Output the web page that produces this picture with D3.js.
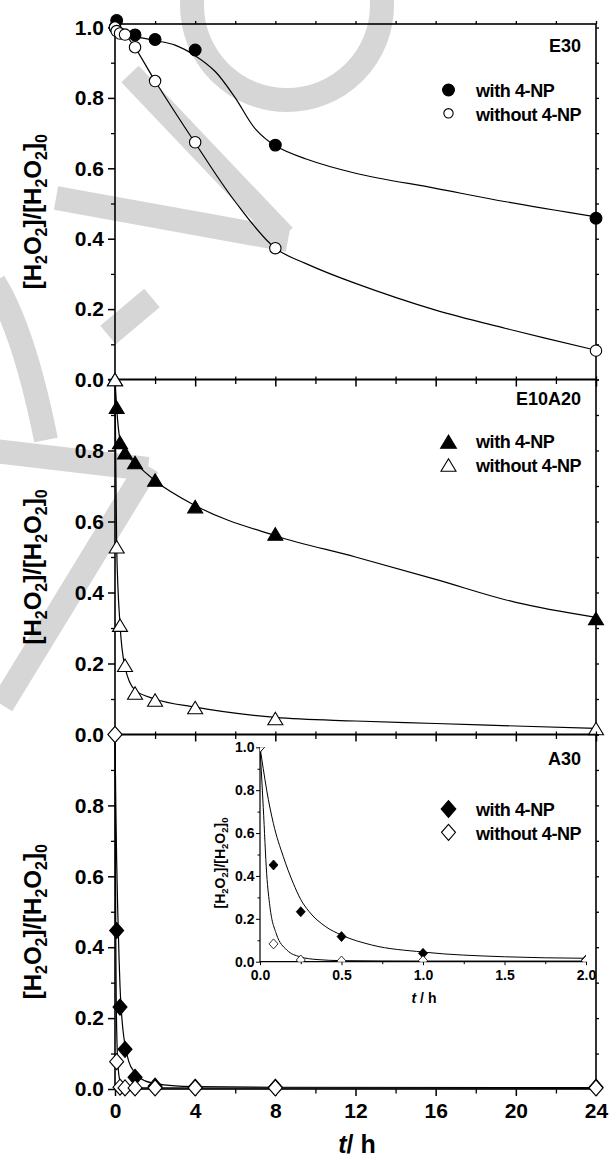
<!DOCTYPE html>
<html><head><meta charset="utf-8">
<script src="https://cdn.jsdelivr.net/npm/d3@7"></script>
<style>
body{margin:0;background:#fff}
text{font-family:"Liberation Sans",Arial,sans-serif;font-weight:bold}
</style>
</head><body>
<svg id="c" width="610" height="1160"></svg>
<script>
// ---------- DATA ----------
const xTickMajor = [0, 4, 8, 12, 16, 20, 24];
const xTickMinor = [2, 6, 10, 14, 18, 22];
const yTickMajor = [0, 0.2, 0.4, 0.6, 0.8, 1.0];
const yTickMinor = [0.1, 0.3, 0.5, 0.7, 0.9];
const insetXTicks = [0, 0.5, 1.0, 1.5, 2.0];
const insetXMinor = [0.25, 0.75, 1.25, 1.75];

const panelNames = ["E30", "E10A20", "A30"];
const seriesNames = ["with 4-NP", "without 4-NP"];

// E30 measured points
const e30WithT = [0, 0.083, 1, 2, 4, 8, 24];
const e30WithY = [1.0, 1.02, 0.979, 0.966, 0.936, 0.666, 0.458];
const e30WithoutT = [0, 0.083, 0.25, 0.5, 1, 2, 4, 8, 24];
const e30WithoutY = [1.0, 0.99, 0.983, 0.98, 0.944, 0.848, 0.674, 0.373, 0.082];
// E30 fitted curves
const e30WithFitT = [0, 0.5, 1, 2, 3, 4, 5, 6, 7, 8, 9.5, 12, 16, 19.5, 24];
const e30WithFitY = [0.995, 0.985, 0.975, 0.963, 0.95, 0.92, 0.875, 0.80, 0.712, 0.664, 0.627, 0.586, 0.543, 0.505, 0.462];
const e30WithoutFitT = [0, 0.5, 1, 2, 4, 6, 8, 9.5, 12, 16, 19.5, 24];
const e30WithoutFitY = [1.0, 0.98, 0.943, 0.848, 0.672, 0.505, 0.373, 0.33, 0.273, 0.197, 0.145, 0.083];

// E10A20 measured points
const e10WithT = [0, 0.083, 0.25, 0.5, 1, 2, 4, 8, 24];
const e10WithY = [1.0, 0.922, 0.823, 0.794, 0.766, 0.717, 0.642, 0.565, 0.327];
const e10WithoutT = [0, 0.083, 0.25, 0.5, 1, 2, 4, 8, 24];
const e10WithoutY = [1.0, 0.529, 0.308, 0.195, 0.117, 0.097, 0.076, 0.045, 0.017];
// E10A20 fitted curves
const e10WithFitT = [0, 0.083, 0.25, 0.5, 1, 2, 4, 8, 12, 16, 20, 24];
const e10WithFitY = [1.0, 0.92, 0.83, 0.795, 0.765, 0.715, 0.645, 0.56, 0.5, 0.437, 0.372, 0.33];
const e10WithoutFitT = [0, 0.083, 0.25, 0.5, 1, 2, 4, 8, 12, 16, 20, 24];
const e10WithoutFitY = [1.0, 0.53, 0.31, 0.19, 0.125, 0.1, 0.077, 0.048, 0.038, 0.031, 0.024, 0.017];

// A30 measured points
const a30WithT = [0, 0.083, 0.25, 0.5, 1, 2, 4, 8, 24];
const a30WithY = [1.0, 0.447, 0.231, 0.112, 0.033, 0.008, 0.005, 0.005, 0.005];
const a30WithoutT = [0, 0.083, 0.25, 0.5, 1, 2, 4, 8, 24];
const a30WithoutY = [1.0, 0.077, 0.005, 0.003, 0.003, 0.003, 0.003, 0.003, 0.003];
// A30 fitted curves
const a30WithFitT = [0, 0.02, 0.041, 0.082, 0.143, 0.204, 0.25, 0.3, 0.4, 0.5, 0.685, 1.0, 1.5, 2.0, 3, 4, 8, 24];
const a30WithFitY = [1.0, 0.9, 0.80, 0.645, 0.49, 0.366, 0.29, 0.235, 0.165, 0.124, 0.078, 0.045, 0.023, 0.016, 0.009, 0.007, 0.005, 0.004];
const a30WithoutFitT = [0, 0.02, 0.041, 0.061, 0.1, 0.164, 0.245, 0.35, 0.5, 1, 2, 24];
const a30WithoutFitY = [1.0, 0.72, 0.41, 0.256, 0.13, 0.055, 0.023, 0.01, 0.005, 0.003, 0.003, 0.002];

// A30 inset (0-2 h)
const insetWithT = [0, 0.083, 0.25, 0.5, 1.0, 2.0];
const insetWithY = [1.0, 0.451, 0.233, 0.117, 0.039, 0.008];
const insetWithoutT = [0, 0.083, 0.25, 0.5, 1.0, 2.0];
const insetWithoutY = [1.0, 0.083, 0.008, 0.003, 0.005, 0.005];

// ---------- DRAW ----------
const zip = (a, b) => a.map((v, i) => [v, b[i]]);
const svg = d3.select("#c");
svg.append("rect").attr("width", 610).attr("height", 1160).attr("fill", "#fff");

// watermark (decorative background)
const wm = svg.append("g").attr("fill", "none").attr("stroke", "#d6d6d6").attr("stroke-width", 24);
wm.append("circle").attr("cx", 287).attr("cy", 5).attr("r", 95);
wm.append("line").attr("x1", 130).attr("y1", 74).attr("x2", 284).attr("y2", 236);
wm.append("line").attr("x1", 56).attr("y1", 198).attr("x2", 288).attr("y2", 240);
wm.append("line").attr("x1", 108).attr("y1", 335).attr("x2", 152).attr("y2", 298);
wm.append("path").attr("d", "M-6,282 Q24,330 46,440");
wm.append("line").attr("x1", -5).attr("y1", 451).attr("x2", 148).attr("y2", 469);
wm.append("line").attr("x1", 148).attr("y1", 466).attr("x2", 2).attr("y2", 705);

const FONT = '"Liberation Sans", Arial, sans-serif';
const x = d3.scaleLinear().domain([0, 24]).range([115, 596]);

const triSym = (w, h) => ({draw(ctx) { ctx.moveTo(0, -h / 2); ctx.lineTo(w / 2, h / 2); ctx.lineTo(-w / 2, h / 2); ctx.closePath(); }});
const diaSym = (w, h) => ({draw(ctx) { ctx.moveTo(0, -h / 2); ctx.lineTo(w / 2, 0); ctx.lineTo(0, h / 2); ctx.lineTo(-w / 2, 0); ctx.closePath(); }});

const panels = [
  {y0: 379.5, y1: 24, dmax: 1.01, showTop: true, name: panelNames[0], nameY: 51.7, legY: 90, smooth: true,
   marker: "circle", withPts: zip(e30WithT, e30WithY), withoutPts: zip(e30WithoutT, e30WithoutY),
   withFit: zip(e30WithFitT, e30WithFitY), withoutFit: zip(e30WithoutFitT, e30WithoutFitY)},
  {y0: 734.5, y1: 379.5, dmax: 1, showTop: false, name: panelNames[1], nameY: 405, legY: 441.7,
   marker: "tri", withPts: zip(e10WithT, e10WithY), withoutPts: zip(e10WithoutT, e10WithoutY),
   withFit: zip(e10WithFitT, e10WithFitY), withoutFit: zip(e10WithoutFitT, e10WithoutFitY)},
  {y0: 1089, y1: 734.5, dmax: 1, showTop: false, name: panelNames[2], nameY: 765, legY: 809,
   marker: "dia", withPts: zip(a30WithT, a30WithY), withoutPts: zip(a30WithoutT, a30WithoutY),
   withFit: zip(a30WithFitT, a30WithFitY), withoutFit: zip(a30WithoutFitT, a30WithoutFitY), bottom: true}
];

function drawMarker(g, type, cx, cy, filled, scale) {
  const s = scale || 1;
  if (type === "circle") {
    g.append("circle").attr("cx", cx).attr("cy", cy).attr("r", (filled ? 5.9 : 5.7) * s)
      .attr("fill", filled ? "#000" : "#fff").attr("stroke", "#000").attr("stroke-width", 1.1);
  } else {
    const sym = type === "tri" ? triSym(15 * s, 12.5 * s) : diaSym(14 * s, 16 * s);
    g.append("path").attr("d", d3.symbol().type(sym)()).attr("transform", `translate(${cx},${cy})`)
      .attr("fill", filled ? "#000" : "#fff").attr("stroke", "#000").attr("stroke-width", 1.1);
  }
}

function yTitle(g, cx, cy, size, sub, shift) {
  const t = g.append("text").attr("transform", `translate(${cx},${cy}) rotate(-90)`)
    .attr("text-anchor", "middle").attr("font-size", size).attr("font-family", FONT).attr("font-weight", "bold");
  const parts = [["[H", 0], ["2", 1], ["O", 0], ["2", 1], ["]/[H", 0], ["2", 1], ["O", 0], ["2", 1], ["]", 0], ["0", 1]];
  let cur = 0;
  parts.forEach(([s, isSub]) => {
    const target = isSub ? shift : 0;
    const ts = t.append("tspan").text(s).attr("dy", target - cur);
    if (isSub) ts.attr("font-size", sub);
    cur = target;
  });
}

panels.forEach((p, pi) => {
  const y = d3.scaleLinear().domain([0, p.dmax]).range([p.y0, p.y1]);
  const g = svg.append("g");

  // left axis
  const la = g.append("g").attr("transform", "translate(115,0)")
    .call(d3.axisLeft(y).tickValues(p.showTop ? yTickMajor : yTickMajor.slice(0, 5)).tickSize(7).tickPadding(4).tickFormat(d3.format(".1f")));
  la.attr("font-size", 21).attr("font-family", FONT).attr("font-weight", "bold");
  la.select(".domain").remove();
  la.selectAll("line").attr("stroke-width", 1.5);
  if (!p.showTop) g.append("line").attr("x1", 108).attr("x2", 115).attr("y1", y(1)).attr("y2", y(1)).attr("stroke", "#000").attr("stroke-width", 1.5);
  const lm = g.append("g").attr("transform", "translate(115,0)").call(d3.axisLeft(y).tickValues(yTickMinor).tickSize(4).tickFormat(""));
  lm.select(".domain").remove(); lm.selectAll("line").attr("stroke-width", 1.3);

  // right axis ticks
  const ra = g.append("g").attr("transform", "translate(596,0)").call(d3.axisRight(y).tickValues(yTickMajor.concat(yTickMinor)).tickSize(3).tickFormat(""));
  ra.select(".domain").remove(); ra.selectAll("line").attr("stroke-width", 1.3);

  // bottom axis
  const ba = g.append("g").attr("transform", `translate(0,${p.y0})`)
    .call(d3.axisBottom(x).tickValues(xTickMajor).tickSize(7).tickPadding(7).tickFormat(p.bottom ? d3.format("d") : ""));
  ba.attr("font-size", 21).attr("font-family", FONT).attr("font-weight", "bold");
  ba.select(".domain").remove(); ba.selectAll("line").attr("stroke-width", 1.5);
  const bm = g.append("g").attr("transform", `translate(0,${p.y0})`).call(d3.axisBottom(x).tickValues(xTickMinor).tickSize(4.5).tickFormat(""));
  bm.select(".domain").remove(); bm.selectAll("line").attr("stroke-width", 1.3);

  // top ticks
  const ta = g.append("g").attr("transform", `translate(0,${p.y1})`).call(d3.axisTop(x).tickValues(xTickMajor.concat(xTickMinor)).tickSize(3).tickFormat(""));
  ta.select(".domain").remove(); ta.selectAll("line").attr("stroke-width", 1.3);

  // frame
  g.append("rect").attr("x", x(0)).attr("y", p.y1).attr("width", x(24) - x(0)).attr("height", p.y0 - p.y1)
    .attr("fill", "none").attr("stroke", "#000").attr("stroke-width", 1.6);

  // curves
  const line = d3.line().x(d => x(d[0])).y(d => y(d[1]))
    .curve(p.smooth ? d3.curveCatmullRom.alpha(0.5) : d3.curveMonotoneX);
  [p.withFit, p.withoutFit].forEach(c => g.append("path").attr("d", line(c)).attr("fill", "none").attr("stroke", "#000").attr("stroke-width", 1.2));

  // markers
  p.withPts.forEach(d => drawMarker(g, p.marker, x(d[0]), y(d[1]), true));
  p.withoutPts.forEach(d => drawMarker(g, p.marker, x(d[0]), y(d[1]), false));

  // panel name
  g.append("text").attr("x", 581).attr("y", p.nameY).attr("text-anchor", "end").attr("font-size", 18).text(p.name);

  // legend
  drawMarker(g, p.marker, 448.5, p.legY, true, p.marker === "circle" ? 1 : 1.05);
  drawMarker(g, p.marker, 448.5, p.legY + 23.3, false, p.marker === "circle" ? 0.82 : 1.0);
  g.append("text").attr("x", 476).attr("y", p.legY + 6.7).attr("font-size", 18).attr("letter-spacing", -0.4).text(seriesNames[0]);
  g.append("text").attr("x", 476).attr("y", p.legY + 30.7).attr("font-size", 18).attr("letter-spacing", -0.4).text(seriesNames[1]);

  // y title
  yTitle(g, 41, (p.y0 + p.y1) / 2 + 10, 24, 16, 6);
});

// x title
const xt = svg.append("text").attr("x", 357).attr("y", 1153).attr("text-anchor", "middle").attr("font-size", 25);
xt.append("tspan").attr("font-style", "italic").text("t");
xt.append("tspan").text("/ h");

// ---------- INSET ----------
const xi = d3.scaleLinear().domain([0, 2]).range([260, 586]);
const yi = d3.scaleLinear().domain([0, 1]).range([961.7, 747.3]);
const ig = svg.append("g");
svg.append("defs").append("clipPath").attr("id", "iclip").append("rect")
  .attr("x", 260).attr("y", 747.3).attr("width", 326).attr("height", 214.4);

const il = ig.append("g").attr("transform", "translate(260,0)")
  .call(d3.axisLeft(yi).tickValues(yTickMajor).tickSize(4).tickPadding(1.5).tickFormat(d3.format(".1f")));
il.attr("font-size", 14).attr("font-family", FONT).attr("font-weight", "bold");
il.select(".domain").remove();
const ilm = ig.append("g").attr("transform", "translate(260,0)").call(d3.axisLeft(yi).tickValues(yTickMinor).tickSize(2.5).tickFormat(""));
ilm.select(".domain").remove();
const ib = ig.append("g").attr("transform", "translate(0,961.7)")
  .call(d3.axisBottom(xi).tickValues(insetXTicks).tickSize(3.5).tickPadding(4.4).tickFormat(d3.format(".1f")));
ib.attr("font-size", 14).attr("font-family", FONT).attr("font-weight", "bold");
ib.select(".domain").remove();
const ibm = ig.append("g").attr("transform", "translate(0,961.7)").call(d3.axisBottom(xi).tickValues(insetXMinor).tickSize(2.5).tickFormat(""));
ibm.select(".domain").remove();
ig.append("path").attr("d", `M${xi(0)},${yi(1)}V${yi(0)}H${xi(2)}`).attr("fill", "none").attr("stroke", "#000").attr("stroke-width", 1.2);

const ic = ig.append("g").attr("clip-path", "url(#iclip)");
const iline = d3.line().x(d => xi(d[0])).y(d => yi(d[1])).curve(d3.curveMonotoneX);
[zip(a30WithFitT, a30WithFitY).filter(d => d[0] <= 2.5), zip(a30WithoutFitT, a30WithoutFitY).filter(d => d[0] <= 2.5)]
  .forEach(c => ic.append("path").attr("d", iline(c)).attr("fill", "none").attr("stroke", "#000").attr("stroke-width", 1));
zip(insetWithT, insetWithY).forEach(d => ic.append("path").attr("d", d3.symbol().type(diaSym(9, 10))())
  .attr("transform", `translate(${xi(d[0])},${yi(d[1])})`).attr("fill", "#000").attr("stroke", "#000").attr("stroke-width", 0.8));
zip(insetWithoutT, insetWithoutY).forEach(d => ic.append("path").attr("d", d3.symbol().type(diaSym(9, 10))())
  .attr("transform", `translate(${xi(d[0])},${yi(d[1])})`).attr("fill", "#fff").attr("stroke", "#000").attr("stroke-width", 0.8));

const ixt = ig.append("text").attr("x", 424).attr("y", 1003).attr("text-anchor", "middle").attr("font-size", 14);
ixt.append("tspan").attr("font-style", "italic").text("t");
ixt.append("tspan").text(" / h");
yTitle(ig, 225, 863, 14, 9.5, 3);
</script>
</body></html>
